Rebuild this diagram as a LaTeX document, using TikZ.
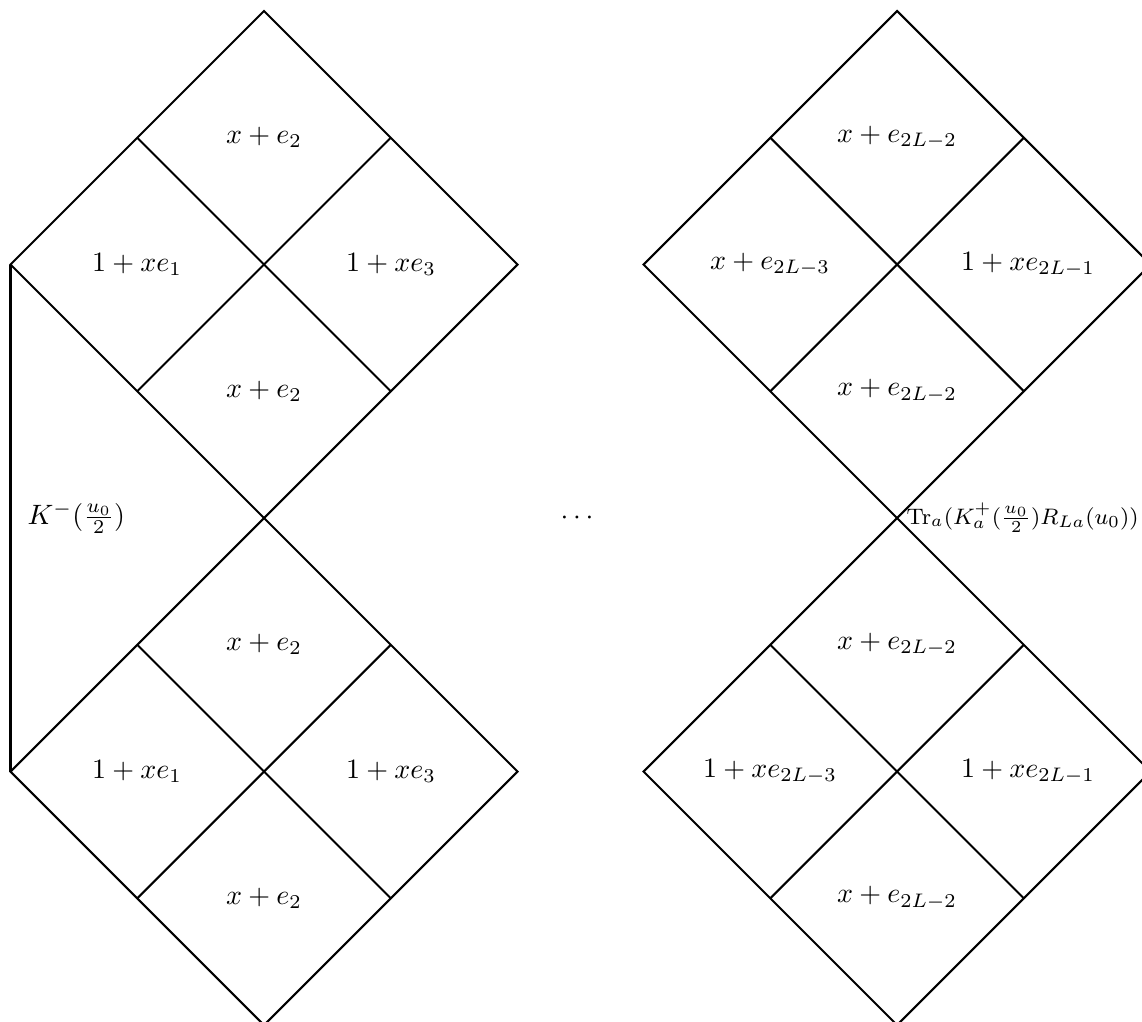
\documentclass[tikz,border=0pt]{standalone}
\usetikzlibrary{calc}
\begin{document}
\begin{tikzpicture}[x=0.357pt,y=-0.357pt,
  edge/.style={line width=0.75pt,line join=miter},
  lbl/.style={inner sep=0pt}]
\clip (0,0) rectangle (1142,1021);
\foreach \n/\cx/\cy in {LU/264/264.5, LD/264/771.5, RU/897/264.5, RD/897/771.5} {
  \coordinate (\n T) at (\cx,\cy-253.5);
  \coordinate (\n R) at (\cx+253.5,\cy);
  \coordinate (\n B) at (\cx,\cy+253.5);
  \coordinate (\n L) at (\cx-253.5,\cy);
  \draw[edge] (\n T) -- (\n R) -- (\n B) -- (\n L) -- cycle;
  \draw[edge] ($(\n T)!0.5!(\n L)$) -- ($(\n R)!0.5!(\n B)$);
  \draw[edge] ($(\n T)!0.5!(\n R)$) -- ($(\n L)!0.5!(\n B)$);
}
\draw[edge] (LUL) -- (LDL);
% left column labels
\node[lbl] (a1) at (264,137.5) {$x+e_2$};
\node[lbl] (a2) at (137,264.5) {$1+xe_1$};
\node[lbl] (a3) at (391,264.5) {$1+xe_3$};
\node[lbl] (a4) at (264,391) {$x+e_2$};
\node[lbl] (b1) at (264,644.5) {$x+e_2$};
\node[lbl] (b2) at (137,771.5) {$1+xe_1$};
\node[lbl] (b3) at (391,771.5) {$1+xe_3$};
\node[lbl] (b4) at (264,898) {$x+e_2$};
% right column labels
\node[lbl] (c1) at (897,137.5) {$x+e_{2L-2}$};
\node[lbl] (c2) at (770,264.5) {$x+e_{2L-3}$};
\node[lbl] (c3) at (1028,264.5) {$1+xe_{2L-1}$};
\node[lbl] (c4) at (897,391) {$x+e_{2L-2}$};
\node[lbl] (d1) at (897,644.5) {$x+e_{2L-2}$};
\node[lbl] (d2) at (770,771.5) {$1+xe_{2L-3}$};
\node[lbl] (d3) at (1028,771.5) {$1+xe_{2L-1}$};
\node[lbl] (d4) at (897,898) {$x+e_{2L-2}$};
% side labels
\node[lbl,anchor=west] (k) at (27,518) {$K^-(\frac{u_0}{2})$};
\node[lbl] (dots) at (577,518) {$\cdots$};
\node[lbl,anchor=west,font=\fontsize{8}{10}\selectfont] (tr) at (906,518) {$\mathrm{Tr}_a(K_a^+(\frac{u_0}{2})R_{La}(u_0))$};
\end{tikzpicture}
\end{document}
